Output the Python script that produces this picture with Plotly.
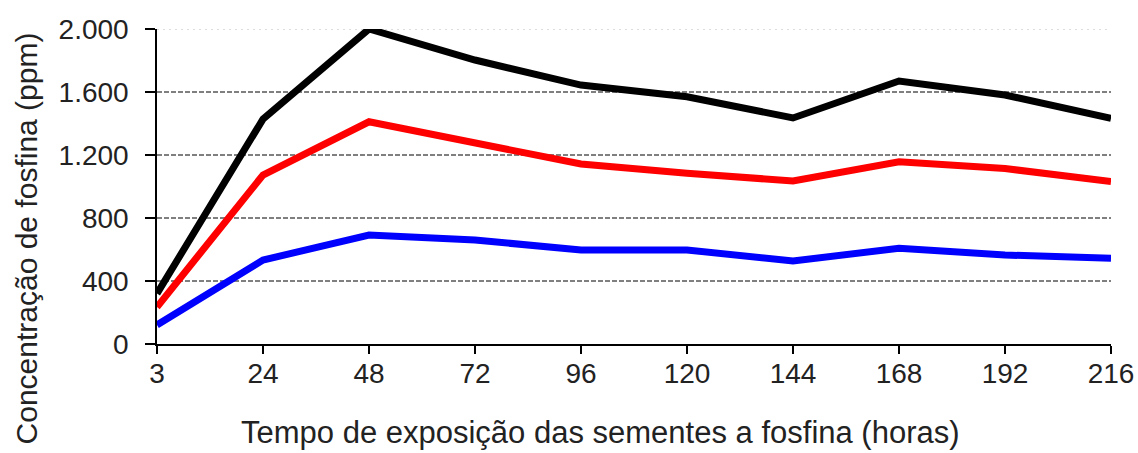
import plotly.graph_objects as go

hours = ["3", "24", "48", "72", "96", "120", "144", "168", "192", "216"]
black_series = [320, 1428, 2000, 1803, 1644, 1570, 1435, 1670, 1581, 1433]
red_series = [235, 1073, 1411, 1274, 1143, 1084, 1035, 1157, 1114, 1031]
blue_series = [121, 533, 692, 660, 597, 597, 527, 608, 565, 544]
y_ticks = [0, 400, 800, 1200, 1600, 2000]
y_tick_labels = ["0", "400", "800", "1.200", "1.600", "2.000"]
dashed_grid = [400, 800, 1200, 1600]
dotted_grid = [2000]

series = [
    ("Série 1", black_series, "#000000"),
    ("Série 2", red_series, "#ff0000"),
    ("Série 3", blue_series, "#0000ff"),
]

fig = go.Figure()
for name, vals, color in series:
    fig.add_trace(go.Scatter(
        x=hours, y=vals, mode="lines", name=name,
        line=dict(color=color, width=7), cliponaxis=False,
    ))

shapes = []
for v in dashed_grid:
    shapes.append(dict(type="line", xref="paper", yref="y", x0=0, x1=1, y0=v, y1=v,
                       line=dict(color="#000000", width=1, dash="5px,2px"), layer="below"))
for v in dotted_grid:
    shapes.append(dict(type="line", xref="paper", yref="y", x0=0, x1=1, y0=v, y1=v,
                       line=dict(color="#bbbbbb", width=1, dash="2px,4px"), layer="below"))

font_family = "Liberation Sans, Arial, sans-serif"
txt_color = "#222222"

fig.update_layout(
    width=1138, height=453,
    margin=dict(l=157, r=27, t=29, b=109),
    paper_bgcolor="white", plot_bgcolor="white",
    showlegend=False,
    shapes=shapes,
    font=dict(family=font_family, color=txt_color, size=28),
    xaxis=dict(
        type="category", range=[0, len(hours) - 1], automargin=False,
        showgrid=False, zeroline=False,
        showline=True, linecolor="#000000", linewidth=1.5,
        ticks="outside", ticklen=8, tickcolor="#000000", tickwidth=1.5,
        ticklabelstandoff=-4,
        tickfont=dict(size=28, color=txt_color, family=font_family),
    ),
    yaxis=dict(
        range=[0, 2000], tickvals=y_ticks, ticktext=y_tick_labels, automargin=False,
        showgrid=False, zeroline=False,
        showline=True, linecolor="#000000", linewidth=1.5,
        ticks="outside", ticklen=10, tickcolor="#000000", tickwidth=1.5,
        ticklabelstandoff=11,
        tickfont=dict(size=28, color=txt_color, family=font_family),
    ),
    annotations=[
        dict(text="Tempo de exposição das sementes a fosfina (horas)",
             xref="paper", yref="paper", x=0.4644, y=-0.2825,
             xanchor="center", yanchor="middle", showarrow=False,
             font=dict(size=31, color=txt_color, family=font_family)),
        dict(text="Concentração de fosfina (ppm)",
             xref="paper", yref="paper", x=-0.137, y=0.336, textangle=-90,
             xanchor="center", yanchor="middle", showarrow=False,
             font=dict(size=30, color=txt_color, family=font_family)),
    ],
)

fig.write_html(
    "out.html",
    config={"displayModeBar": False},
    post_script="document.body.style.margin='0';document.body.style.overflow='hidden';",
)
